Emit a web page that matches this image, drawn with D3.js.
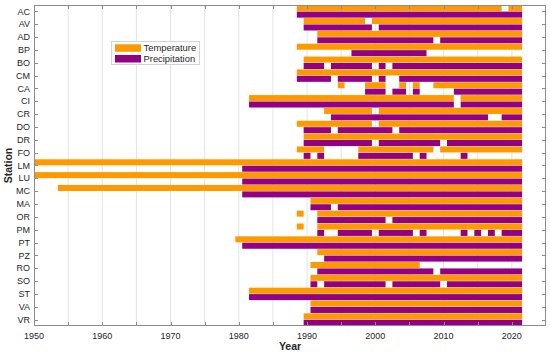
<!DOCTYPE html>
<html>
<head>
<meta charset="utf-8">
<script src="https://cdn.jsdelivr.net/npm/d3@7"></script>
<style>
html,body{margin:0;padding:0;background:#fff;}
svg{display:block;font-family:"Liberation Sans",Arial,Helvetica,sans-serif;}
</style>
</head>
<body>
<svg id="chart" width="550" height="354"></svg>
<script>
// ---- data (periods of available years, inclusive) ----
const stations = ["AC","AV","AD","BP","BO","CM","CA","CI","CR","DO","DR","FO","LM","LU","MC","MA","OR","PM","PT","PZ","RO","SO","ST","VA","VR"];
const temperaturePeriods = [
  [[1989,2018],[2020,2021]],
  [[1990,1998],[2000,2021]],
  [[1992,2021]],
  [[1989,2021]],
  [[1990,2021]],
  [[1989,2021]],
  [[1995,1995],[1999,2001],[2004,2004],[2006,2006],[2009,2021]],
  [[1982,2011],[2013,2021]],
  [[1993,1999],[2001,2021]],
  [[1989,1999],[2001,2021]],
  [[1990,2021]],
  [[1989,1992],[1998,2008],[2010,2021]],
  [[1950,2021]],
  [[1950,2021]],
  [[1954,2021]],
  [[1991,2021]],
  [[1989,1989],[1992,2021]],
  [[1989,1989],[1992,2021]],
  [[1980,2021]],
  [[1992,2021]],
  [[1991,2006]],
  [[1991,2021]],
  [[1982,2021]],
  [[1991,2021]],
  [[1990,2021]]
];
const precipitationPeriods = [
  [[1989,2021]],
  [[1990,1999],[2001,2021]],
  [[1992,2008],[2010,2021]],
  [[1997,2007]],
  [[1990,1992],[1994,1999],[2001,2001],[2003,2021]],
  [[1989,1993],[1995,1999],[2001,2001],[2004,2021]],
  [[1999,2001],[2003,2004],[2006,2006],[2012,2021]],
  [[1982,2011],[2013,2021]],
  [[1994,2016],[2019,2021]],
  [[1990,1993],[1995,2002],[2004,2021]],
  [[1990,1999],[2001,2009],[2011,2021]],
  [[1990,1990],[1992,1992],[1998,2005],[2007,2007],[2013,2013]],
  [[1981,2021]],
  [[1981,2021]],
  [[1981,2021]],
  [[1991,1993],[1995,2021]],
  [[1992,2001],[2003,2021]],
  [[1992,1992],[1995,1999],[2001,2005],[2007,2007],[2013,2013],[2015,2015],[2017,2017],[2019,2021]],
  [[1981,2021]],
  [[1993,2021]],
  [[1992,2008],[2010,2021]],
  [[1991,1991],[1993,2001],[2003,2009],[2011,2021]],
  [[1982,2021]],
  [[1991,2021]],
  [[1990,2021]]
];
const xTicks = [1950,1955,1960,1965,1970,1975,1980,1985,1990,1995,2000,2005,2010,2015,2020];
const xLabels = [1950,1960,1970,1980,1990,2000,2010,2020];
const seriesNames = ["Temperature","Precipitation"];
const seriesColors = ["#ff9900","#920083"];

// ---- layout ----
const L = 34, R = 546, T = 5, B = 326;
const svg = d3.select("#chart");
const x = d3.scaleLinear().domain([1950, 2025]).range([L, R]);
const y = d3.scaleBand().domain(stations).range([T, B]).padding(0);
const bw = y.bandwidth();

svg.append("defs").append("clipPath").attr("id","clip")
  .append("rect").attr("x",L).attr("y",T).attr("width",R-L).attr("height",B-T);

// grid
svg.append("g").selectAll("line").data(xTicks.filter(d=>d>1950)).join("line")
  .attr("x1",d=>x(d)).attr("x2",d=>x(d)).attr("y1",T).attr("y2",B)
  .attr("stroke","#e3e3e3").attr("stroke-width",1);

// bars
const rows = [];
stations.forEach((s,i)=>{
  temperaturePeriods[i].forEach(p=>rows.push({s, k:0, a:p[0], b:p[1]}));
  precipitationPeriods[i].forEach(p=>rows.push({s, k:1, a:p[0], b:p[1]}));
});
svg.append("g").attr("clip-path","url(#clip)").selectAll("rect").data(rows).join("rect")
  .attr("x",d=>x(d.a-0.5))
  .attr("width",d=>x(d.b+0.5)-x(d.a-0.5))
  .attr("y",d=>y(d.s) + (d.k===0 ? 0.2 : bw/2 + 0.2))
  .attr("height",bw/2 - 0.4)
  .attr("fill",d=>seriesColors[d.k]);

// axes box
const axisColor = "#8c8c8c";
svg.append("rect").attr("x",L+0.5).attr("y",T+0.5).attr("width",R-L-1).attr("height",B-T-1)
  .attr("fill","none").attr("stroke",axisColor).attr("stroke-width",1);

// x ticks (inward, bottom and top)
const tk = svg.append("g").attr("stroke",axisColor).attr("stroke-width",1);
xTicks.forEach(d=>{
  const xx = Math.round(x(d))+0.5;
  tk.append("line").attr("x1",xx).attr("x2",xx).attr("y1",B).attr("y2",B-4);
  tk.append("line").attr("x1",xx).attr("x2",xx).attr("y1",T).attr("y2",T+4);
});
// y ticks (inward, left and right)
stations.forEach(s=>{
  const yy = Math.round(y(s)+bw/2)+0.5;
  tk.append("line").attr("x1",L).attr("x2",L+4).attr("y1",yy).attr("y2",yy);
  tk.append("line").attr("x1",R).attr("x2",R-4).attr("y1",yy).attr("y2",yy);
});

// tick labels
svg.append("g").selectAll("text").data(xLabels).join("text")
  .attr("x",d=>x(d)).attr("y",338.5).attr("text-anchor","middle")
  .attr("font-size",9).attr("fill","#262626").text(d=>d);
svg.append("g").selectAll("text").data(stations).join("text")
  .attr("x",30).attr("y",d=>y(d)+bw/2).attr("dy","0.35em").attr("text-anchor","end")
  .attr("font-size",9).attr("fill","#262626").text(d=>d);

// axis titles
svg.append("text").attr("x",(L+R)/2).attr("y",350).attr("text-anchor","middle")
  .attr("font-size",10.5).attr("font-weight","bold").attr("fill","#262626").text("Year");
svg.append("text").attr("transform",`translate(12,${(T+B)/2}) rotate(-90)`)
  .attr("text-anchor","middle").attr("font-size",10.5).attr("font-weight","bold")
  .attr("fill","#262626").text("Station");

// legend
const lg = svg.append("g");
lg.append("rect").attr("x",111.5).attr("y",41.5).attr("width",88).attr("height",23)
  .attr("fill","#fff").attr("stroke","#d4d4d4");
seriesNames.forEach((n,i)=>{
  lg.append("rect").attr("x",115).attr("y",44.3+i*10.7).attr("width",26).attr("height",7.5)
    .attr("fill",seriesColors[i]);
  lg.append("text").attr("x",143.5).attr("y",48+i*10.7).attr("dy","0.35em")
    .attr("font-size",9.4).attr("fill","#262626").text(n);
});
</script>
</body>
</html>
